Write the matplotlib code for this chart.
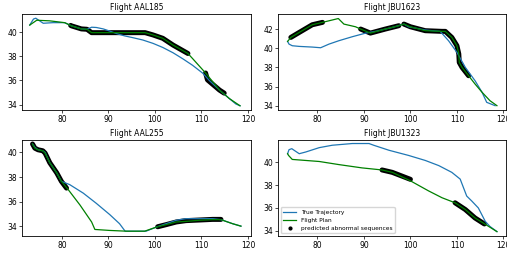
import matplotlib
matplotlib.use("Agg")
import matplotlib.pyplot as plt
from matplotlib.lines import Line2D

titles = ["Flight AAL185", "Flight JBU1623", "Flight AAL255", "Flight JBU1323"]

# ---- Flight AAL185 ----
aal185_true_lon = [73.1, 73.9, 74.4, 75.1, 76.0, 78.1, 80.6, 82.1, 84.2, 85.4, 86.4, 87.4, 88.9, 90.3, 91.7, 93.5, 95.3, 97.4, 99.6, 101.7, 103.9, 106.0, 108.1, 110.3, 111.7, 113.9, 116.0, 117.4, 118.3]
aal185_true_lat = [40.6, 41.1, 41.17, 40.98, 40.75, 40.8, 40.8, 40.53, 40.28, 40.25, 40.42, 40.4, 40.28, 40.1, 39.9, 39.7, 39.55, 39.36, 39.08, 38.74, 38.3, 37.8, 37.26, 36.6, 36.0, 35.2, 34.5, 34.05, 33.9]
aal185_plan_lon = [73.1, 74.6, 77.4, 80.6, 82.1, 84.2, 85.4, 86.4, 87.4, 90.3, 97.9, 99.6, 101.7, 103.9, 107.1, 108.1, 110.9, 113.9, 116.0, 118.3]
aal185_plan_lat = [40.6, 41.0, 40.95, 40.8, 40.53, 40.28, 40.25, 39.97, 39.97, 39.97, 39.97, 39.78, 39.5, 38.94, 38.24, 37.82, 36.62, 35.2, 34.5, 33.9]
aal185_abn = [
    ([81.9, 82.1, 84.2, 85.4, 86.4, 87.4, 90.3, 97.9, 99.6, 101.7, 103.9, 107.1],
     [40.57, 40.53, 40.28, 40.25, 39.97, 39.97, 39.97, 39.97, 39.78, 39.5, 38.94, 38.24]),
    ([110.9, 111.3, 113.9, 114.9],
     [36.62, 36.05, 35.2, 34.95]),
]

# ---- Flight JBU1623 ----
jbu1623_true_lon = [73.6, 73.9, 74.6, 76.1, 78.9, 80.7, 82.5, 84.6, 87.5, 90.4, 92.5, 96.1, 98.6, 99.6, 103.2, 106.4, 108.2, 110.0, 111.8, 113.9, 115.4, 116.4, 118.2]
jbu1623_true_lat = [40.71, 40.43, 40.26, 40.19, 40.12, 40.05, 40.43, 40.78, 41.2, 41.58, 41.76, 42.17, 42.52, 42.24, 41.9, 41.76, 40.78, 39.57, 38.0, 36.6, 35.4, 34.35, 34.0]
jbu1623_plan_lon = [73.6, 74.3, 76.1, 78.9, 81.1, 84.5, 85.7, 88.2, 89.3, 91.4, 94.6, 97.5, 98.6, 100.0, 103.2, 106.8, 107.5, 108.9, 110.0, 110.4, 110.5, 111.1, 112.5, 113.9, 115.4, 117.1, 118.6]
jbu1623_plan_lat = [40.71, 41.13, 41.65, 42.45, 42.7, 43.1, 42.52, 42.24, 42.0, 41.58, 42.0, 42.35, 42.52, 42.24, 41.83, 41.76, 41.76, 41.13, 40.26, 39.4, 38.52, 38.0, 37.13, 36.26, 35.4, 34.52, 34.0]
jbu1623_abn = [
    ([74.3, 76.1, 78.9, 81.1], [41.13, 41.65, 42.45, 42.7]),
    ([89.3, 91.4, 94.6, 97.5], [42.0, 41.58, 42.0, 42.35]),
    ([98.6, 100.0, 103.2, 106.8, 107.5, 108.9, 110.0, 110.4, 110.5, 111.1, 112.5],
     [42.52, 42.24, 41.83, 41.76, 41.76, 41.13, 40.26, 39.4, 38.52, 38.0, 37.13]),
]

# ---- Flight AAL255 ----
aal255_true_lon = [73.7, 74.2, 74.9, 75.9, 76.4, 77.4, 78.9, 79.9, 81.7, 84.6, 87.4, 90.3, 92.4, 93.6, 95.3, 98.1, 100.3, 102.4, 104.6, 106.7, 109.6, 112.4, 114.2, 116.7, 118.5]
aal255_true_lat = [40.69, 40.41, 40.22, 40.14, 40.0, 39.17, 38.34, 37.65, 37.38, 36.69, 35.86, 34.94, 34.2, 33.59, 33.59, 33.59, 33.92, 34.2, 34.48, 34.61, 34.61, 34.61, 34.53, 34.2, 34.0]
aal255_plan_lon = [73.7, 74.2, 74.9, 75.9, 76.4, 77.4, 78.9, 79.9, 81.4, 83.9, 86.4, 87.1, 90.3, 93.9, 97.8, 100.3, 102.4, 104.6, 106.7, 109.6, 112.4, 114.2, 116.7, 118.5]
aal255_plan_lat = [40.69, 40.35, 40.22, 40.14, 39.95, 39.17, 38.34, 37.65, 36.96, 35.72, 34.34, 33.73, 33.65, 33.59, 33.59, 33.92, 34.12, 34.34, 34.39, 34.48, 34.53, 34.53, 34.2, 34.0]
aal255_abn = [
    ([73.7, 74.2, 74.9, 75.9, 76.4, 77.4, 78.9, 79.9, 81.0],
     [40.69, 40.35, 40.22, 40.14, 39.95, 39.17, 38.34, 37.65, 37.1]),
    ([100.6, 102.4, 104.6, 106.7, 109.6, 112.4, 114.2],
     [33.95, 34.12, 34.34, 34.45, 34.5, 34.55, 34.55]),
]

# ---- Flight JBU1323 ----
jbu1323_true_lon = [73.6, 73.9, 74.5, 75.0, 76.1, 77.5, 80.4, 83.2, 87.5, 91.1, 92.1, 95.4, 99.6, 103.2, 106.1, 108.9, 110.7, 112.1, 113.2, 114.6, 116.1, 117.1, 118.6]
jbu1323_true_lat = [40.74, 41.09, 41.18, 41.04, 40.74, 40.89, 41.27, 41.48, 41.63, 41.63, 41.48, 41.04, 40.59, 40.15, 39.7, 39.11, 38.52, 37.04, 36.6, 36.0, 34.82, 34.38, 33.93]
jbu1323_plan_lon = [73.6, 73.8, 74.6, 80.4, 84.6, 89.6, 93.9, 96.1, 100.0, 103.9, 106.8, 109.6, 111.8, 113.9, 115.7, 118.6]
jbu1323_plan_lat = [40.74, 40.59, 40.24, 40.06, 39.79, 39.5, 39.32, 39.11, 38.37, 37.49, 36.89, 36.45, 35.86, 35.12, 34.67, 33.93]
jbu1323_abn = [
    ([93.9, 96.1, 100.0], [39.32, 39.11, 38.5]),
    ([109.6, 111.8, 113.9, 115.9], [36.45, 35.86, 35.12, 34.6]),
]

flights = [
    (aal185_true_lon, aal185_true_lat, aal185_plan_lon, aal185_plan_lat, aal185_abn),
    (jbu1623_true_lon, jbu1623_true_lat, jbu1623_plan_lon, jbu1623_plan_lat, jbu1623_abn),
    (aal255_true_lon, aal255_true_lat, aal255_plan_lon, aal255_plan_lat, aal255_abn),
    (jbu1323_true_lon, jbu1323_true_lat, jbu1323_plan_lon, jbu1323_plan_lat, jbu1323_abn),
]

fig = plt.figure(figsize=(5.07, 2.54), dpi=100)
W, H = 0.4505, 0.377
rects = [(0.044, 0.567, W, H), (0.548, 0.567, W, H),
         (0.044, 0.071, W, H), (0.548, 0.071, W, H)]

blue = '#1f77b4'
green = '#008000'

for i, (rect, (tlon, tlat, plon, plat, abn)) in enumerate(zip(rects, flights)):
    ax = fig.add_axes(rect)
    for alon, alat in abn:
        ax.plot(alon, alat, color='black', lw=3.6, solid_capstyle='round',
                solid_joinstyle='round', zorder=1)
    ax.plot(tlon, tlat, color=blue, lw=0.9, zorder=2)
    ax.plot(plon, plat, color=green, lw=0.9, zorder=3)
    ax.set_xlim(71.5, 120.6)
    ax.set_xticks([80, 90, 100, 110, 120])
    ax.set_title(titles[i], fontsize=5.5, pad=3)
    ax.tick_params(labelsize=5.5, length=2, width=0.5, pad=1.5)
    for s in ax.spines.values():
        s.set_linewidth(0.6)
    if i == 3:
        handles = [Line2D([], [], color=blue, lw=0.9),
                   Line2D([], [], color=green, lw=0.9),
                   Line2D([], [], color='black', marker='o', ls='none', markersize=2)]
        ax.legend(handles, ["True Trajectory", "Flight Plan", "predicted abnormal sequences"],
                  loc='lower left', fontsize=4.2, handlelength=2.2, borderpad=0.4,
                  labelspacing=0.5, framealpha=0.8)

ylims = [(33.55, 41.5), (33.55, 43.55), (33.2, 41.0), (33.55, 41.92)]
for ax, yl in zip(fig.axes, ylims):
    ax.set_ylim(*yl)
fig.axes[0].set_yticks([34, 36, 38, 40])
fig.axes[1].set_yticks([34, 36, 38, 40, 42])
fig.axes[2].set_yticks([34, 36, 38, 40])
fig.axes[3].set_yticks([34, 36, 38, 40])

fig.savefig("out.png", dpi=100)
